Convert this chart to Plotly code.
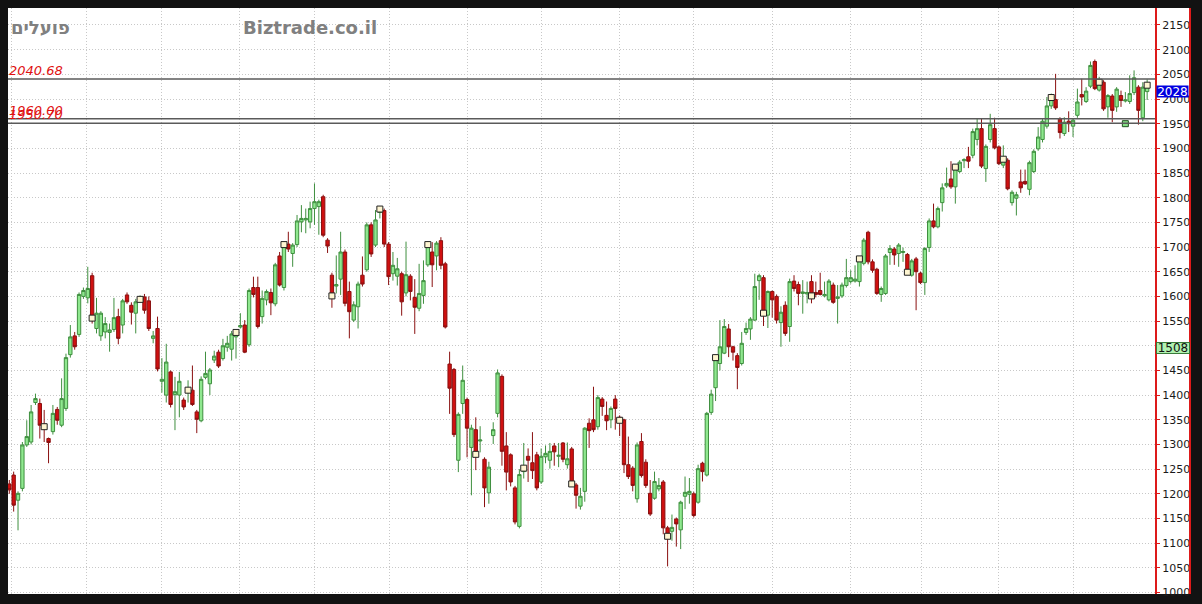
import plotly.graph_objects as go

# ---------------- data ----------------
opens = [1220,1238,1187,1211,1299,1305,1385,1383,1341,1312,1326,1371,1339,1373,1482,1520,1523,1600,1597,1642,
         1535,1520,1528,1527,1533,1559,1542,1603,1582,1566,1592,1599,1591,1515,1535,1428,1400,1447,1401,1400,
         1390,1405,1410,1366,1348,1436,1423,1471,1487,1474,1497,1493,1518,1538,1542,1502,1618,1618,1559,1593,
         1608,1585,1682,1618,1706,1687,1705,1751,1755,1751,1778,1782,1802,1714,1643,1621,1635,1690,1610,1552,
         1579,1643,1654,1745,1704,1770,1774,1706,1646,1641,1646,1607,1641,1598,1576,1602,1664,1690,1682,1713,
         1666,1463,1452,1268,1383,1391,1294,1330,1307,1270,1202,1318,1363,1438,1297,1279,1212,1134,1245,1276,
         1263,1279,1224,1275,1268,1297,1276,1303,1259,1291,1218,1175,1205,1343,1350,1336,1392,1359,1350,1392,
         1355,1350,1259,1252,1190,1306,1264,1201,1191,1210,1224,1131,1124,1149,1127,1195,1199,1200,1183,1262,
         1238,1365,1415,1464,1485,1534,1498,1480,1464,1527,1534,1552,1632,1638,1562,1610,1600,1547,1582,1539,
         1631,1624,1606,1605,1630,1608,1612,1601,1593,1623,1596,1601,1622,1630,1631,1630,1667,1730,1670,1655,
         1604,1606,1689,1696,1687,1689,1685,1643,1676,1647,1628,1699,1753,1741,1790,1824,1838,1822,1853,1875,
         1883,1886,1918,1940,1859,1918,1940,1903,1866,1876,1790,1799,1832,1833,1817,1853,1899,1918,1945,1986,
         1999,1960,1930,1955,1945,1967,2009,1995,2026,2076,2018,2034,1984,2006,1984,2007,1996,1995,2013,2024,
         1962,2015]
highs = [1228,1245,1205,1305,1349,1380,1403,1393,1370,1314,1380,1376,1434,1484,1542,1528,1608,1618,1660,1648,
         1597,1570,1558,1545,1597,1575,1595,1608,1588,1595,1602,1605,1600,1530,1559,1475,1504,1450,1437,1447,
         1395,1430,1460,1370,1438,1488,1455,1490,1492,1514,1520,1530,1530,1566,1552,1616,1640,1640,1612,1614,
         1616,1668,1690,1710,1731,1708,1765,1785,1778,1792,1829,1796,1806,1718,1648,1683,1731,1695,1630,1590,
         1630,1681,1750,1750,1775,1783,1778,1710,1690,1678,1650,1711,1645,1635,1666,1673,1712,1710,1712,1720,
         1670,1488,1455,1365,1460,1395,1340,1355,1337,1274,1265,1345,1452,1442,1325,1282,1216,1250,1303,1292,
         1325,1285,1292,1298,1303,1303,1303,1305,1304,1295,1222,1212,1335,1353,1417,1400,1396,1387,1377,1400,
         1359,1352,1316,1256,1304,1323,1270,1228,1245,1232,1228,1135,1158,1152,1186,1235,1232,1204,1259,1265,
         1366,1411,1480,1552,1554,1544,1500,1485,1528,1547,1558,1646,1646,1643,1612,1612,1604,1580,1590,1636,
         1643,1630,1633,1630,1643,1630,1648,1630,1635,1628,1623,1628,1676,1653,1663,1680,1718,1733,1675,1658,
         1620,1686,1704,1700,1708,1699,1688,1676,1680,1650,1700,1758,1788,1782,1829,1861,1874,1866,1876,1880,
         1903,1940,1960,1960,1908,1970,1962,1906,1906,1880,1815,1812,1857,1857,1875,1898,1943,1960,2004,2011,
         2051,1963,1963,1975,1960,2021,2041,2024,2076,2080,2045,2038,2010,2010,2024,2017,2014,2048,2058,2028,
         2034,2040]
lows = [1200,1164,1126,1205,1295,1300,1380,1312,1305,1262,1320,1340,1335,1368,1476,1492,1518,1595,1586,1545,
        1525,1510,1515,1488,1528,1503,1525,1585,1543,1525,1588,1565,1530,1505,1448,1405,1385,1375,1329,1355,
        1370,1385,1378,1323,1345,1432,1400,1465,1455,1470,1488,1470,1474,1535,1485,1498,1598,1535,1545,1582,
        1562,1580,1620,1612,1690,1660,1700,1730,1728,1738,1745,1725,1720,1688,1577,1606,1603,1580,1515,1548,
        1535,1620,1650,1680,1700,1758,1700,1623,1632,1622,1561,1600,1592,1524,1570,1585,1660,1619,1653,1655,
        1535,1362,1315,1244,1362,1274,1197,1248,1284,1173,1180,1301,1355,1257,1207,1215,1138,1130,1231,1224,
        1230,1207,1220,1262,1251,1257,1254,1264,1251,1215,1170,1168,1184,1293,1325,1330,1358,1329,1333,1330,
        1317,1242,1230,1205,1182,1233,1212,1155,1188,1205,1118,1053,1105,1093,1088,1169,1180,1152,1180,1225,
        1235,1360,1388,1450,1483,1477,1470,1412,1460,1522,1512,1550,1593,1540,1536,1557,1545,1498,1520,1508,
        1610,1582,1565,1586,1586,1598,1602,1598,1590,1585,1545,1597,1618,1626,1628,1620,1663,1665,1648,1603,
        1589,1603,1664,1664,1660,1670,1645,1640,1572,1625,1603,1690,1738,1738,1772,1820,1818,1788,1850,1860,
        1860,1880,1906,1860,1832,1912,1898,1866,1860,1815,1784,1764,1810,1826,1805,1850,1895,1912,1940,1980,
        1978,1920,1925,1933,1923,1962,1987,1992,2022,2018,2015,1976,1962,1953,1974,1984,1993,1990,2008,1948,
        1955,1998]
closes = [1208,1177,1201,1299,1316,1366,1393,1339,1336,1304,1363,1349,1393,1476,1518,1498,1604,1612,1616,1556,
          1566,1566,1545,1532,1557,1515,1591,1589,1568,1589,1594,1572,1535,1520,1453,1432,1467,1381,1407,1428,
          1376,1410,1381,1351,1432,1444,1451,1479,1459,1500,1505,1524,1527,1541,1487,1612,1604,1539,1596,1610,
          1587,1664,1623,1705,1696,1704,1753,1758,1758,1778,1792,1792,1724,1702,1601,1624,1690,1586,1569,1583,
          1625,1625,1745,1686,1755,1777,1706,1640,1663,1656,1589,1644,1610,1578,1606,1632,1705,1664,1708,1663,
          1538,1414,1320,1361,1430,1333,1333,1280,1309,1212,1254,1330,1445,1286,1244,1224,1143,1239,1252,1268,
          1247,1212,1276,1282,1286,1285,1278,1270,1271,1220,1197,1195,1333,1328,1330,1395,1377,1348,1373,1373,
          1349,1259,1235,1217,1299,1237,1217,1159,1225,1217,1131,1114,1132,1139,1183,1203,1205,1156,1251,1245,
          1363,1402,1476,1498,1539,1498,1487,1456,1505,1535,1554,1620,1642,1566,1610,1593,1552,1568,1525,1630,
          1616,1606,1609,1608,1601,1604,1604,1604,1631,1588,1599,1623,1638,1638,1635,1676,1714,1670,1653,1606,
          1616,1682,1697,1684,1704,1691,1649,1672,1650,1628,1697,1753,1741,1778,1820,1829,1822,1862,1872,1877,
          1874,1934,1940,1864,1904,1948,1901,1869,1878,1818,1811,1806,1820,1828,1871,1894,1923,1955,1986,2003,
          1982,1932,1953,1950,1957,1994,2004,2016,2068,2021,2034,1980,2007,1977,2020,1997,1998,2011,2043,1977,
          2024,2028]

# candles carrying the cream square marker (drawn at their close)
marker_idx = [8, 19, 30, 41, 52, 63, 74, 85, 96, 107, 118, 129, 140, 151, 162, 173, 184, 195, 206, 217,
              228, 239, 250, 261]
# separate green square marker
green_mark_idx = [256]
green_mark_val = [1950]

# horizontal levels
levels = [2040.68, 1960.00, 1950.70]

# vertical (month) grid positions, in candle index units
month_ticks = [0.6, 17.8, 35, 52.7, 69.9, 87.1, 105, 122, 140, 157, 175, 193, 209.3, 227, 244.2]

# price axis ticks
y_ticks = list(range(1000, 2151, 50))

last_price = 2028
avg_price = 1508

title_left = "פועלים"
title_site = "Biztrade.co.il"

# ---------------- figure ----------------
x_idx = list(range(len(closes)))

fig = go.Figure()
fig.add_trace(go.Candlestick(
    x=x_idx, open=opens, high=highs, low=lows, close=closes,
    increasing=dict(line=dict(color="#3f8f3f", width=1), fillcolor="#8fe88f"),
    decreasing=dict(line=dict(color="#8a1010", width=1), fillcolor="#d01010"),
    whiskerwidth=0, hoverinfo="skip",
))
fig.add_trace(go.Scatter(
    x=marker_idx, y=[closes[i] for i in marker_idx], mode="markers",
    marker=dict(symbol="square", size=6, color="#fff6d2", line=dict(color="#222222", width=1)),
    hoverinfo="skip",
))
fig.add_trace(go.Scatter(
    x=green_mark_idx, y=green_mark_val, mode="markers",
    marker=dict(symbol="square", size=6, color="#86df86", line=dict(color="#1f4f1f", width=1)),
    hoverinfo="skip",
))

L, R, T, B = 8, 47, 8, 10
W, H = 1202, 604
pw = W - L - R
ph = H - T - B
def px_x(px):
    return (px - L) / pw
def px_y(py):
    return 1 - (py - T) / ph

shapes = []
# white background for the price-axis panel
shapes.append(dict(type="rect", xref="paper", yref="paper", x0=1.0, x1=px_x(1190), y0=0, y1=1,
                   fillcolor="white", line=dict(width=0), layer="below"))
# red frame lines of the price panel
for xp in (1156, 1190):
    shapes.append(dict(type="line", xref="paper", yref="paper", x0=px_x(xp), x1=px_x(xp), y0=0, y1=1,
                       line=dict(color="#dd1a1a", width=2)))
# level lines
for lv in levels:
    shapes.append(dict(type="line", xref="paper", yref="y", x0=0, x1=1, y0=lv, y1=lv,
                       line=dict(color="#5a5a5a", width=1.5)))

annotations = []
annotations.append(dict(text=title_left, xref="paper", yref="paper", x=px_x(9), y=px_y(28),
                        xanchor="left", yanchor="middle", showarrow=False,
                        font=dict(family="DejaVu Sans", size=18, color="#808080", weight="bold")))
annotations.append(dict(text=title_site, xref="paper", yref="paper", x=px_x(241), y=px_y(28),
                        xanchor="left", yanchor="middle", showarrow=False,
                        font=dict(family="DejaVu Sans", size=18, color="#808080", weight="bold")))
for lv in levels:
    annotations.append(dict(text=f"{lv:.2f}", xref="paper", yref="y", x=0, y=lv,
                            xanchor="left", yanchor="bottom", showarrow=False, yshift=0,
                            borderpad=0,
                            font=dict(family="DejaVu Sans", size=13, color="#e01010", style="italic")))
annotations.append(dict(text=str(last_price), xref="paper", yref="y", x=px_x(1155.5), y=last_price,
                        xanchor="left", yanchor="top", showarrow=False, bgcolor="#0000e0",
                        width=31, height=11, borderpad=0,
                        font=dict(family="DejaVu Sans", size=12, color="white")))
annotations.append(dict(text=str(avg_price), xref="paper", yref="y", x=px_x(1155.5), y=avg_price,
                        xanchor="left", yanchor="top", showarrow=False, bgcolor="#b0f2b0",
                        bordercolor="#3a7a3a", borderwidth=1,
                        width=32, height=10, borderpad=0,
                        font=dict(family="DejaVu Sans", size=12, color="#111111")))

fig.update_layout(
    width=W, height=H,
    margin=dict(l=L, r=R, t=T, b=B, autoexpand=False),
    paper_bgcolor="#121212", plot_bgcolor="white",
    showlegend=False,
    boxgap=0.1, boxgroupgap=0.15,
    shapes=shapes, annotations=annotations,
    xaxis=dict(range=[-0.3, 262.8], tickvals=month_ticks, showticklabels=False, ticks="",
               showgrid=True, gridcolor="#c8c8c8", griddash="1px,2px", gridwidth=1,
               zeroline=False, showline=False, rangeslider=dict(visible=False), fixedrange=True),
    yaxis=dict(range=[997, 2184.4], side="right", tickvals=y_ticks, ticktext=[str(v) for v in y_ticks],
               ticks="outside", ticklen=4, tickcolor="#dd1a1a", tickwidth=1,
               tickfont=dict(family="DejaVu Sans", size=11, color="#1a1a1a"),
               showgrid=True, gridcolor="#c8c8c8", griddash="1px,2px", gridwidth=1,
               zeroline=False, showline=False, automargin=False, fixedrange=True),
)

fig.write_html("out.html", config={"displayModeBar": False},
               post_script="document.body.style.margin='0';document.body.style.background='#121212';")
